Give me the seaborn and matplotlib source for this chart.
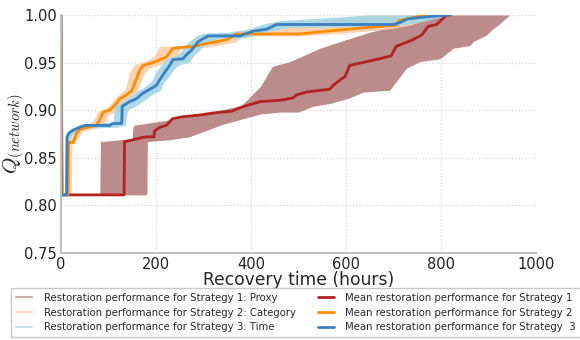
import numpy as np
import pandas as pd
import matplotlib
matplotlib.use("Agg")
import matplotlib.pyplot as plt
from matplotlib.lines import Line2D
import seaborn as sns

# ---- mean restoration curves (time in hours, network performance Q) ----
s1_t = [0, 2, 133, 134, 145, 160, 180, 196, 197, 208, 222, 235, 255, 294, 320, 360,
        385, 420, 450, 470, 489, 496, 517, 566, 573, 591, 598, 608, 671, 695, 706,
        741, 760, 773, 791, 812, 820]
s1_q = [1.0, 0.811, 0.811, 0.867, 0.868, 0.870, 0.872, 0.872, 0.878, 0.882, 0.884,
        0.891, 0.893, 0.895, 0.897, 0.899, 0.904, 0.909, 0.910, 0.911, 0.913, 0.916,
        0.919, 0.922, 0.926, 0.933, 0.935, 0.947, 0.954, 0.957, 0.967, 0.974, 0.979,
        0.988, 0.990, 1.0, 1.0]

s2_t = [0, 3, 15, 16, 26, 33, 40, 56, 75, 82, 89, 103, 117, 124, 138, 149, 166, 173,
        194, 208, 222, 236, 278, 306, 349, 370, 500, 560, 650, 705, 712, 740, 767, 775]
s2_q = [1.0, 0.811, 0.811, 0.866, 0.866, 0.876, 0.880, 0.882, 0.884, 0.890, 0.898,
        0.900, 0.907, 0.912, 0.916, 0.920, 0.942, 0.947, 0.950, 0.953, 0.956, 0.965,
        0.967, 0.970, 0.974, 0.980, 0.980, 0.983, 0.987, 0.989, 0.994, 0.997, 1.0, 1.0]

s3_t = [0, 1, 12, 13, 17, 26, 40, 50, 103, 110, 128, 129, 145, 159, 173, 184, 201,
        208, 219, 229, 236, 257, 264, 275, 289, 310, 377, 405, 433, 454, 700, 714,
        730, 770, 814, 820]
s3_q = [1.0, 0.811, 0.811, 0.872, 0.876, 0.879, 0.882, 0.884, 0.884, 0.886, 0.886,
        0.904, 0.909, 0.912, 0.918, 0.921, 0.926, 0.932, 0.940, 0.947, 0.953, 0.954,
        0.958, 0.963, 0.972, 0.978, 0.978, 0.983, 0.985, 0.990, 0.990, 0.992, 0.996,
        0.998, 1.0, 1.0]

# ---- envelopes of the individual restoration runs ----
s1_fast_t = [0, 2, 82, 83, 150, 152, 230, 300, 380, 420, 445, 482, 545, 594, 651, 707, 770, 960]
s1_fast_q = [1.0, 0.811, 0.811, 0.867, 0.870, 0.884, 0.890, 0.896, 0.905, 0.925, 0.946,
             0.951, 0.965, 0.973, 0.982, 0.989, 1.0, 1.0]
s1_slow_t = [0, 2, 181, 182, 230, 270, 340, 420, 461, 500, 530, 566, 608, 636, 692, 706,
             727, 756, 798, 826, 861, 868, 896, 906, 924, 945, 960]
s1_slow_q = [1.0, 0.811, 0.811, 0.867, 0.869, 0.872, 0.885, 0.896, 0.898, 0.898, 0.904,
             0.907, 0.913, 0.919, 0.921, 0.930, 0.944, 0.951, 0.954, 0.965, 0.968, 0.972,
             0.979, 0.984, 0.991, 1.0, 1.0]

s2_fast_t = [0, 2, 10, 11, 25, 33, 56, 70, 78, 95, 110, 120, 135, 145, 155, 180, 195,
             208, 260, 300, 340, 360, 440, 560, 640, 960]
s2_fast_q = [1.0, 0.811, 0.811, 0.868, 0.872, 0.880, 0.884, 0.890, 0.899, 0.902, 0.910,
             0.916, 0.921, 0.940, 0.948, 0.952, 0.956, 0.967, 0.968, 0.972, 0.978, 0.983,
             0.987, 0.995, 1.0, 1.0]
s2_slow_t = [0, 4, 22, 23, 35, 45, 65, 90, 100, 112, 125, 135, 150, 160, 175, 185, 210,
             225, 245, 252, 300, 330, 370, 380, 500, 600, 700, 740, 790, 960]
s2_slow_q = [1.0, 0.811, 0.811, 0.864, 0.870, 0.878, 0.880, 0.884, 0.895, 0.898, 0.904,
             0.910, 0.914, 0.918, 0.938, 0.944, 0.948, 0.952, 0.958, 0.965, 0.966, 0.968,
             0.972, 0.978, 0.978, 0.981, 0.986, 0.990, 1.0, 1.0]

s3_fast_t = [0, 1, 8, 9, 20, 35, 110, 113, 128, 145, 160, 175, 190, 200, 212, 222, 245,
             255, 265, 285, 300, 360, 400, 430, 460, 560, 650, 960]
s3_fast_q = [1.0, 0.811, 0.811, 0.874, 0.880, 0.884, 0.888, 0.905, 0.908, 0.914, 0.920,
             0.924, 0.930, 0.940, 0.948, 0.954, 0.958, 0.963, 0.970, 0.978, 0.981, 0.982,
             0.986, 0.991, 0.994, 0.997, 1.0, 1.0]
s3_slow_t = [0, 2, 16, 17, 30, 50, 115, 135, 140, 160, 175, 190, 210, 215, 228, 240, 250,
             270, 280, 290, 305, 330, 390, 420, 450, 480, 700, 760, 820, 960]
s3_slow_q = [1.0, 0.811, 0.811, 0.869, 0.877, 0.881, 0.882, 0.884, 0.900, 0.905, 0.910,
             0.916, 0.921, 0.928, 0.936, 0.944, 0.948, 0.950, 0.958, 0.962, 0.970, 0.975,
             0.976, 0.981, 0.984, 0.987, 0.988, 0.993, 1.0, 1.0]

band_labels = ["Restoration performance for Strategy 1: Proxy",
               "Restoration performance for Strategy 2: Category",
               "Restoration performance for Strategy 3: Time"]
mean_labels = ["Mean restoration performance for Strategy 1",
               "Mean restoration performance for Strategy 2",
               "Mean restoration performance for Strategy  3"]

x_ticks = [0, 200, 400, 600, 800, 1000]
y_ticks = [0.75, 0.80, 0.85, 0.90, 0.95, 1.00]

band_colors = ["#b98585", "#fdd0aa", "#a8d6e6"]
band_legend_colors = ["#d2aeae", "#fde0c6", "#c6e5ef"]
mean_colors = ["#b22222", "#ff8c00", "#3a7fc0"]

sns.set_style("white")
plt.rcParams["font.family"] = ["DejaVu Sans"]
plt.rcParams["mathtext.fontset"] = "cm"

fig = plt.figure(figsize=(5.8, 3.4), dpi=100)
ax = fig.add_axes([0.105, 0.256, 0.819, 0.70])

envelopes = [(s1_fast_t, s1_fast_q, s1_slow_t, s1_slow_q),
             (s2_fast_t, s2_fast_q, s2_slow_t, s2_slow_q),
             (s3_fast_t, s3_fast_q, s3_slow_t, s3_slow_q)]
grid = np.linspace(0, 960, 2000)
for (ft, fq, st, sq), col in zip(envelopes, band_colors):
    hi = np.interp(grid, ft, fq)
    lo = np.interp(grid, st, sq)
    ax.fill_between(grid, lo, hi, color=col, lw=0, alpha=0.95)

means = pd.concat([
    pd.DataFrame({"t": s1_t, "q": s1_q, "strategy": mean_labels[0]}),
    pd.DataFrame({"t": s2_t, "q": s2_q, "strategy": mean_labels[1]}),
    pd.DataFrame({"t": s3_t, "q": s3_q, "strategy": mean_labels[2]}),
])
sns.lineplot(data=means, x="t", y="q", hue="strategy", palette=mean_colors,
             estimator=None, sort=False, lw=2, legend=False, ax=ax)

ax.set_xlim(0, 1000)
ax.set_ylim(0.75, 1.0)
ax.set_xticks(x_ticks)
ax.set_yticks(y_ticks)
ax.set_yticklabels([f"{v:.2f}" for v in y_ticks])
ax.tick_params(labelsize=10.5, length=0, pad=3, colors="#222222")
ax.grid(True, color="#d8d8d8", linestyle=":", linewidth=0.9)
for side in ["top", "right"]:
    ax.spines[side].set_visible(False)
for side in ["left", "bottom"]:
    ax.spines[side].set_color("#c0c0c0")
    ax.spines[side].set_linewidth(1.5)

ax.set_xlabel("Recovery time (hours)", fontsize=12.3, labelpad=-0.5)
ax.set_ylabel(r"$Q_{(network)}$", fontsize=15)
ax.yaxis.set_label_coords(-0.072, 0.5)

handles = [Line2D([], [], color=c, lw=1.5) for c in band_legend_colors] + \
          [Line2D([], [], color=c, lw=2) for c in mean_colors]
ax.legend(handles, band_labels + mean_labels, ncol=2, fontsize=7.3,
          loc="upper center", bbox_to_anchor=(0.495, -0.147), frameon=True,
          edgecolor="#bbbbbb", fancybox=False, handlelength=1.6,
          columnspacing=2.2, borderpad=0.5, labelspacing=0.45, handletextpad=1.1,
          borderaxespad=0)

fig.savefig("out.png", dpi=100)
